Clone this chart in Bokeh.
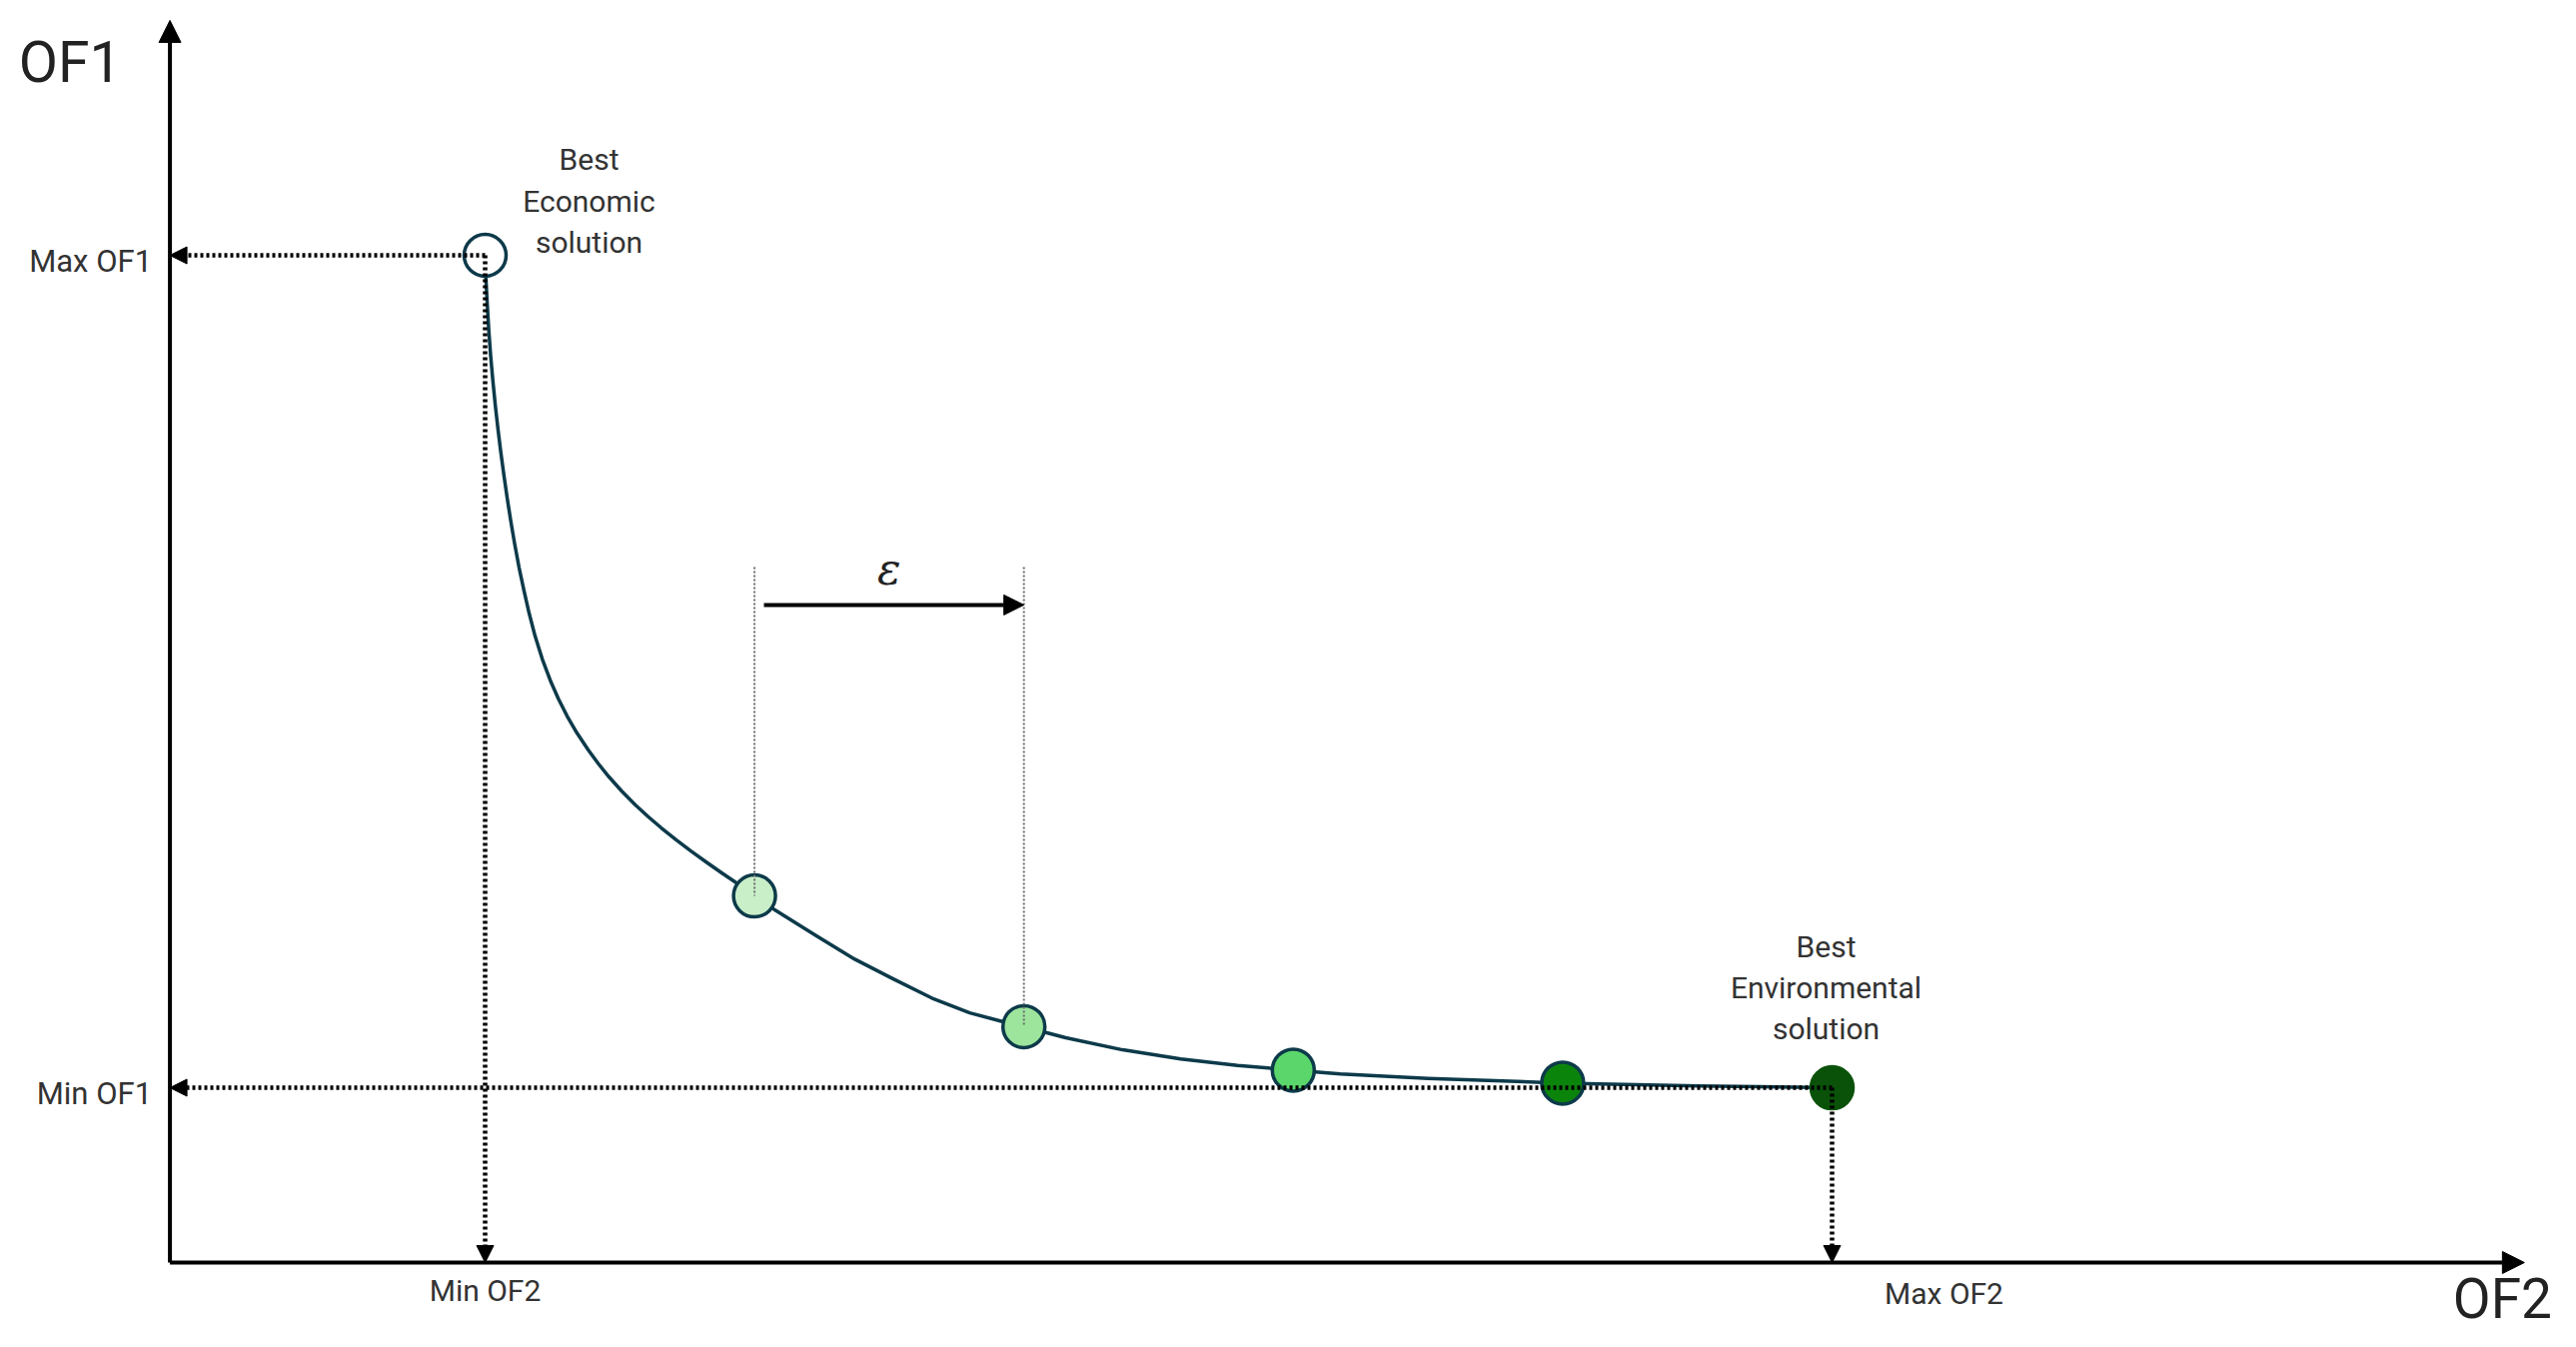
from bokeh.plotting import figure
from bokeh.models import Range1d, Arrow, NormalHead, ColumnDataSource
from bokeh.core.properties import value
from bokeh.embed import file_html
from bokeh.resources import INLINE

# ---------------- data (abstract objective units) ----------------
OF2_MIN, OF2_MAX = 1.0, 6.0
OF1_MIN, OF1_MAX = 1.0, 10.0

# axis extents (origin and arrow tips)
AXIS_X0, AXIS_X_END = -0.17, 8.57
AXIS_Y0, AXIS_Y_END = -0.89, 12.54

# Pareto front (curve)
curve_of2 = [1.0000, 1.0033, 1.0082, 1.0137, 1.0204, 1.0286, 1.0382, 1.0482, 1.0582, 1.0697,
             1.0820, 1.0953, 1.1098, 1.1257, 1.1439, 1.1632, 1.1855, 1.2122, 1.2444, 1.2723,
             1.3042, 1.3409, 1.3828, 1.4210, 1.4599, 1.5063, 1.5575, 1.6061, 1.6539, 1.7099,
             1.7637, 1.8197, 1.8779, 1.9436, 2.0000,
             2.072, 2.231, 2.372, 2.513, 2.658, 2.799, 2.940, 3.000,
             3.155, 3.366, 3.582, 3.793, 4.000, 4.175, 4.500, 5.000, 5.500, 6.000]
curve_of1 = [10.000, 9.730, 9.459, 9.189, 8.919, 8.649, 8.368, 8.109, 7.871, 7.623,
             7.374, 7.126, 6.877, 6.629, 6.380, 6.132, 5.883, 5.635, 5.386, 5.203,
             5.019, 4.835, 4.652, 4.501, 4.360, 4.209, 4.058, 3.928, 3.809, 3.679,
             3.560, 3.442, 3.323, 3.193, 3.074,
             2.93, 2.64, 2.39, 2.18, 1.97, 1.81, 1.70, 1.66,
             1.54, 1.41, 1.31, 1.24, 1.19, 1.15, 1.10, 1.05, 1.02, 1.00]

# solutions on the front
point_of2 = [1.0, 2.0, 3.0, 4.0, 5.0, 6.0]
point_of1 = [10.0, 3.074, 1.66, 1.19, 1.05, 1.00]
point_fill = ["#ffffff", "#c9efc9", "#9de59d", "#5bd66b", "#0b840b", "#0a520a"]
point_line = ["#0d3a4a", "#0d3a4a", "#0d3a4a", "#0d3a4a", "#0d3a4a", "#0a520a"]

# epsilon step annotation
EPS_FROM, EPS_TO = 2.0, 3.0
EPS_GUIDE_TOP = 6.63
EPS_ARROW_Y = 6.22
EPS_ARROW_START = 2.035

y_tick_labels = ["Max OF1", "Min OF1"]
x_tick_labels = ["Min OF2", "Max OF2"]

# ---------------- figure ----------------
W, H = 2570, 1340
PX_X = 269.6   # pixels per OF2 unit
PX_Y = 92.56   # pixels per OF1 unit
x_start = OF2_MIN - 485 / PX_X
y_top = OF1_MAX + 255 / PX_Y

p = figure(width=W, height=H,
           x_range=Range1d(x_start, x_start + W / PX_X),
           y_range=Range1d(y_top - H / PX_Y, y_top),
           output_backend="svg", toolbar_location=None,
           x_axis_location=None, y_axis_location=None, min_border=0)
p.grid.visible = False
p.outline_line_color = None
p.background_fill_color = "white"
p.border_fill_color = "white"

FONT = value("Roboto")
DARK = "#0d3a4a"

# ---------------- axes with arrows ----------------
p.add_layout(Arrow(end=NormalHead(size=22, fill_color="black", line_color="black"),
                   x_start=AXIS_X0, y_start=AXIS_Y0, x_end=AXIS_X0, y_end=AXIS_Y_END,
                   line_color="black", line_width=4))
p.add_layout(Arrow(end=NormalHead(size=22, fill_color="black", line_color="black"),
                   x_start=AXIS_X0, y_start=AXIS_Y0, x_end=AXIS_X_END, y_end=AXIS_Y0,
                   line_color="black", line_width=4))

# ---------------- dotted projection arrows ----------------
def dotted_arrow(xs, ys, xe, ye):
    p.add_layout(Arrow(end=NormalHead(size=17, fill_color="black", line_color="black"),
                       x_start=xs, y_start=ys, x_end=xe, y_end=ye,
                       line_color="black", line_width=4.5, line_dash="3 3"))

# ---------------- curve ----------------
p.line(curve_of2, curve_of1, line_color=DARK, line_width=3.5, line_join="round")

dotted_arrow(OF2_MIN, OF1_MAX, AXIS_X0, OF1_MAX)    # Max OF1
dotted_arrow(OF2_MIN, OF1_MAX, OF2_MIN, AXIS_Y0)    # Min OF2
dotted_arrow(OF2_MAX, OF1_MIN, AXIS_X0, OF1_MIN)    # Min OF1
dotted_arrow(OF2_MAX, OF1_MIN, OF2_MAX, AXIS_Y0)    # Max OF2

# ---------------- points ----------------
src = ColumnDataSource(dict(x=point_of2, y=point_of1, fill=point_fill, line=point_line))
p.scatter("x", "y", source=src, size=42, fill_color="fill", line_color="line", line_width=3.5)

# ---------------- epsilon annotation ----------------
p.segment(x0=[EPS_FROM, EPS_TO], y0=[EPS_GUIDE_TOP, EPS_GUIDE_TOP],
          x1=[EPS_FROM, EPS_TO], y1=[point_of1[1], point_of1[2]],
          line_color="#6e6e6e", line_width=2, line_dash="2 2")
p.add_layout(Arrow(end=NormalHead(size=20, fill_color="black", line_color="black"),
                   x_start=EPS_ARROW_START, y_start=EPS_ARROW_Y, x_end=EPS_TO, y_end=EPS_ARROW_Y,
                   line_color="black", line_width=4))
p.text(x=[(EPS_FROM + EPS_TO) / 2], y=[EPS_ARROW_Y], text=["ε"], y_offset=-36,
       text_align="center", text_baseline="middle", text_font=value("DejaVu Serif"),
       text_font_style="italic", text_font_size="44px", text_color="#222222")

# ---------------- labels ----------------
p.text(x=[AXIS_X0, AXIS_X0], y=[OF1_MAX, OF1_MIN], text=y_tick_labels, x_offset=-18, y_offset=6,
       text_align="right", text_baseline="middle", text_font=FONT, text_font_size="31px",
       text_color="#333333")
p.text(x=[OF2_MIN], y=[AXIS_Y0], text=[x_tick_labels[0]], y_offset=28,
       text_align="center", text_baseline="middle", text_font=FONT, text_font_size="30px",
       text_color="#333333")
p.text(x=[OF2_MAX], y=[AXIS_Y0], text=[x_tick_labels[1]], x_offset=112, y_offset=31,
       text_align="center", text_baseline="middle", text_font=FONT, text_font_size="30px",
       text_color="#333333")

p.text(x=[AXIS_X0], y=[AXIS_Y_END], text=["OF1"], x_offset=-100, y_offset=42,
       text_align="center", text_baseline="middle", text_font=FONT, text_font_size="57px",
       text_color="#222222")
p.text(x=[AXIS_X_END], y=[AXIS_Y0], text=["OF2"], x_offset=-22, y_offset=37,
       text_align="center", text_baseline="middle", text_font=FONT, text_font_size="55px",
       text_color="#222222")

econ = ["Best", "Economic", "solution"]
p.text(x=[OF2_MIN] * 3, y=[OF1_MAX] * 3, text=econ, x_offset=104, y_offset=[-96, -54, -13],
       text_align="center", text_baseline="middle", text_font=FONT, text_font_size="30px",
       text_color="#333333")
env = ["Best", "Environmental", "solution"]
p.text(x=[OF2_MAX] * 3, y=[OF1_MIN] * 3, text=env, x_offset=-6, y_offset=[-141, -100, -59],
       text_align="center", text_baseline="middle", text_font=FONT, text_font_size="30px",
       text_color="#333333")

open("out.html", "w").write(file_html(p, INLINE))
